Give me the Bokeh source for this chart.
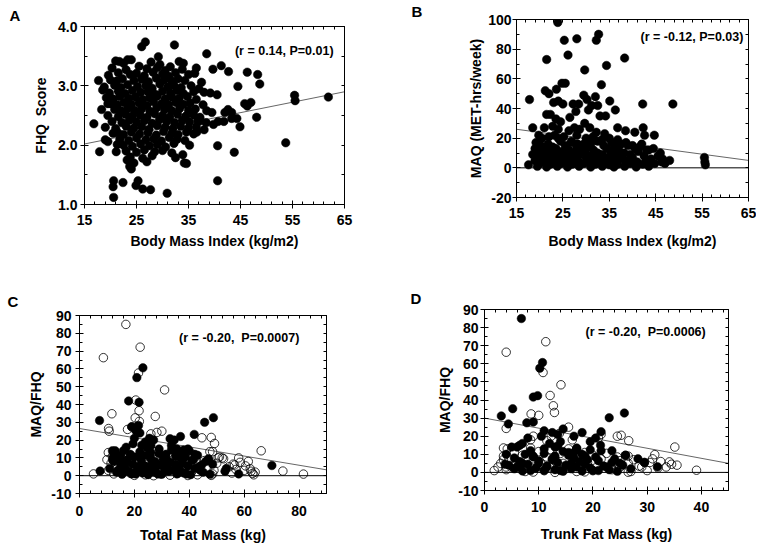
from bokeh.plotting import figure
from bokeh.models import LinearAxis, FixedTicker, Span, Label, PrintfTickFormatter, Range1d, Title
from bokeh.layouts import row, column
from bokeh.embed import file_html
from bokeh.resources import INLINE

FONT = "Liberation Sans"

# ---------------- Panel A: BMI vs FHQ score ----------------
bmi_a = [
    21.0, 22.5, 24.0, 27.8, 29.5, 33.2, 34.0,
    20.3, 23.0, 25.5, 27.0, 29.0, 30.5, 31.5, 33.8, 36.5,
    19.6, 21.5, 23.8, 25.0, 26.5, 28.2, 30.0, 31.2, 32.5, 35.0, 36.2,
    20.0, 21.2, 22.3, 24.5, 26.0, 27.3, 28.8, 30.3, 31.8, 33.0, 34.3, 37.5,
    18.8, 20.8, 22.0, 23.3, 25.2, 26.8, 28.0, 29.5, 31.0, 32.2, 33.6, 35.5, 37.0,
    18.5, 19.8, 21.5, 22.8, 24.2, 25.8, 27.2, 28.6, 30.0, 31.5, 32.8, 34.0, 36.0, 38.0,
    19.2, 20.5, 21.8, 23.5, 24.8, 26.2, 27.5, 29.0, 30.5, 31.8, 33.2, 34.8, 36.5,
    20.0, 21.3, 22.6, 24.0, 25.5, 27.0, 28.3, 29.8, 31.2, 32.6, 34.0, 35.3, 37.8,
    20.8, 22.0, 23.3, 24.6, 26.0, 27.6, 28.9, 30.4, 31.8, 33.3, 35.0, 36.3, 38.5,
    19.5, 21.5, 22.9, 24.2, 25.7, 27.0, 28.5, 30.0, 31.4, 32.9, 34.5, 36.0, 37.2,
    20.3, 22.2, 23.6, 25.0, 26.5, 28.0, 29.4, 30.8, 32.3, 33.8, 35.2, 36.8, 38.4,
    19.0, 21.0, 23.0, 24.5, 26.0, 27.4, 29.0, 30.5, 32.0, 33.5, 35.0, 36.5,
    20.5, 22.5, 24.0, 25.6, 27.2, 28.8, 30.2, 31.8, 33.0, 34.6, 36.0,
    21.8, 23.5, 25.0, 26.8, 28.3, 29.8, 31.3, 32.8, 34.3,
    22.5, 24.2, 25.8, 27.5, 29.0, 30.6, 32.2, 35.2,
    23.0, 25.0, 26.5, 28.5, 30.0, 31.8,
    23.8, 26.2, 28.0, 32.5,
    24.5, 27.0,
    26.7, 26.0, 32.3, 38.5, 29.2, 21.7, 23.3, 39.7, 41.3, 42.7, 46.3, 48.3, 48.7,
    17.7, 44.5, 55.4, 55.5, 61.9, 16.8, 18.3, 19.5, 17.9, 53.7, 48.1, 44.9, 43.8,
    40.6, 40.6, 20.6, 20.5, 20.6, 22.4, 25.3, 24.9, 26.2, 27.7, 30.9, 33.9, 34.2,
    34.6, 23.2, 23.7, 24.0, 21.1, 21.3, 19.0, 19.5, 21.4, 42.6, 43.3, 44.3, 45.8,
    46.3, 47.0, 40.5, 39.2, 39.5, 40.7, 39.8, 38.0, 37.3, 36.6, 41.8, 42.0, 43.3,
]
fhq_a = [
    3.42, 3.38, 3.44, 3.40, 3.36, 3.41, 3.38,
    3.30, 3.27, 3.33, 3.29, 3.31, 3.26, 3.32, 3.28, 3.30,
    3.18, 3.22, 3.19, 3.21, 3.17, 3.23, 3.20, 3.16, 3.22, 3.19, 3.21,
    3.10, 3.08, 3.12, 3.09, 3.11, 3.07, 3.13, 3.10, 3.08, 3.12, 3.09, 3.06,
    2.98, 3.01, 2.97, 3.02, 2.99, 3.00, 2.96, 3.03, 2.98, 3.01, 2.97, 3.00, 2.95,
    2.93, 2.88, 2.91, 2.87, 2.92, 2.89, 2.90, 2.86, 2.91, 2.88, 2.92, 2.87, 2.90, 2.89,
    2.80, 2.78, 2.82, 2.79, 2.81, 2.77, 2.80, 2.83, 2.78, 2.81, 2.79, 2.82, 2.77,
    2.70, 2.68, 2.72, 2.69, 2.71, 2.67, 2.73, 2.70, 2.68, 2.72, 2.69, 2.71, 2.68,
    2.60, 2.58, 2.62, 2.59, 2.61, 2.57, 2.63, 2.60, 2.58, 2.62, 2.59, 2.61, 2.58,
    2.50, 2.48, 2.52, 2.49, 2.51, 2.47, 2.53, 2.50, 2.48, 2.52, 2.49, 2.51, 2.47,
    2.40, 2.38, 2.42, 2.39, 2.41, 2.37, 2.43, 2.40, 2.38, 2.42, 2.39, 2.41, 2.38,
    2.30, 2.28, 2.32, 2.29, 2.31, 2.27, 2.33, 2.30, 2.28, 2.32, 2.29, 2.31,
    2.20, 2.18, 2.22, 2.19, 2.21, 2.17, 2.23, 2.20, 2.18, 2.22, 2.19,
    2.10, 2.08, 2.12, 2.09, 2.11, 2.07, 2.13, 2.10, 2.08,
    2.00, 1.98, 2.02, 1.99, 2.01, 1.97, 2.03, 2.00,
    1.90, 1.88, 1.92, 1.89, 1.91, 1.87,
    1.80, 1.78, 1.82, 1.79,
    1.70, 1.72,
    3.74, 3.66, 3.69, 3.54, 3.49, 3.41, 3.44, 3.28, 3.34, 3.24, 3.23, 3.19, 3.03,
    3.09, 2.99, 2.84, 2.75, 2.81, 2.36, 2.60, 2.70, 1.89, 2.04, 2.47, 2.31, 1.88,
    1.99, 1.40, 1.40, 1.30, 1.12, 1.37, 1.40, 1.32, 1.26, 1.25, 1.19, 1.84, 1.70,
    1.69, 1.75, 1.64, 1.60, 1.89, 2.01, 2.09, 2.06, 2.21, 2.60, 2.55, 2.45, 2.70,
    2.66, 2.72, 2.85, 2.88, 2.55, 2.40, 2.35, 2.26, 2.41, 2.22, 2.40, 2.55, 2.45,
]
fit_a_x = [15, 65]
fit_a_y = [2.02, 2.90]

# ---------------- Panel B: BMI vs MAQ ----------------
bmi_b = [
    23.9, 32.7, 32.2, 28.0, 25.3, 21.5, 26.1, 38.3, 34.4, 29.7, 33.3, 17.8, 42.2, 48.7,
    24.8, 25.5, 21.2, 22.0, 23.6, 29.5, 30.2, 32.0, 35.1, 36.3, 24.0, 23.0, 25.0, 27.2,
    28.4, 31.2, 32.5, 30.5, 27.8, 33.0, 34.2, 21.5, 22.3, 23.5, 26.5, 24.5, 29.7,
    18.5, 21.0, 22.8, 24.0, 26.3, 27.5, 28.6, 30.8, 32.2, 34.0, 36.8, 38.5, 40.5, 42.3,
    42.6, 44.7, 19.8, 20.5, 22.0, 23.2, 25.2, 28.0, 30.0, 31.5, 33.4, 35.0, 36.8, 38.6,
    40.0, 41.5, 43.5, 44.5, 45.5, 46.0, 46.5, 47.0, 48.0, 55.5, 55.6, 55.7, 17.6,
    19.2, 21.8, 24.5, 27.0, 29.5, 32.5, 35.5, 37.6,
    20.2, 22.8, 25.5, 28.2, 30.8, 33.8, 36.2, 39.0, 42.0,
    19.0, 21.2, 23.5, 26.3, 29.0, 31.6, 34.5, 37.0, 40.6, 43.0,
    20.0, 22.3, 24.8, 27.3, 29.8, 32.5, 35.3, 38.2, 41.2,
    19.3, 21.5, 23.9, 26.2, 28.5, 31.0, 33.5, 36.0, 39.5, 42.5,
    20.5, 22.8, 25.0, 27.5, 30.0, 32.2, 34.8, 37.2, 40.0, 44.0,
    19.0, 21.2, 23.5, 26.0, 28.3, 30.8, 33.3, 35.8, 38.5, 41.0, 43.0, 46.3,
    20.0, 22.3, 24.6, 27.0, 29.5, 32.0, 34.5, 36.8, 39.5, 42.2, 44.8,
    19.5, 21.5, 23.8, 26.0, 28.5, 31.0, 33.5, 36.0, 38.3, 40.8, 43.5,
    18.5, 24.0, 26.8, 31.0, 25.8, 28.0, 30.3, 35.0, 37.5, 23.0, 27.8,
]
maq_b = [
    98, 90, 86, 87, 86, 73, 76, 74, 69, 66, 56, 46, 43, 43,
    57, 57, 52, 50, 53, 49, 46, 48, 45, 39, 45, 44, 43, 43,
    43, 42, 42, 39, 38, 35, 35, 36, 36, 33, 34, 31, 30,
    27, 27, 28, 26, 25, 27, 26, 27, 24, 23, 27, 25, 24, 27,
    22, 22, 22, 20, 21, 22, 21, 22, 20, 21, 19, 20, 19, 17,
    15, 14, 12, 13, 8, 10, 6, 3, 5, 7, 4, 2, 2,
    17, 16, 18, 17, 16, 18, 17, 16,
    15, 14, 15, 16, 14, 15, 14, 15, 16,
    13, 12, 13, 12, 13, 12, 13, 12, 13, 12,
    11, 10, 11, 10, 11, 10, 11, 10, 11,
    9, 8, 9, 8, 9, 8, 9, 8, 9, 8,
    7, 6, 7, 6, 7, 6, 7, 6, 7, 6,
    5, 4, 5, 4, 5, 4, 5, 4, 5, 4, 5, 4,
    3, 2.5, 3, 2.5, 3, 2.5, 3, 2.5, 3, 2.5, 3,
    1, 0.5, 1, 0.5, 1, 0.5, 1, 0.5, 1, 0.5, 1,
    9, 20, 18, 16, 12, 14, 4, 2, 10, 3.5, 6,
]
fit_b_x = [15, 65]
fit_b_y = [26.0, 5.0]

# ---------------- Panel C: total fat mass vs MAQ/FHQ ----------------
tfm_filled = [
    13.0, 22.0, 33.5, 40.0,
    18.5, 24.5, 29.0, 36.0, 43.0,
    14.5, 20.0, 26.0, 31.5, 38.5, 47.0,
    12.5, 17.0, 22.5, 27.5, 33.0, 41.0, 46.0,
    15.0, 19.5, 24.0, 29.5, 35.0, 39.5, 44.5, 48.5,
    11.0, 16.5, 21.0, 25.5, 31.0, 36.5, 42.0,
    13.5, 18.0, 23.0, 27.0, 32.5, 38.0, 45.0, 53.0,
    15.5, 20.5, 25.0, 30.0, 35.5, 40.5, 47.5,
    7.3, 23.1, 20.9, 17.9, 21.7, 21.5, 20.5, 45.6, 48.8, 41.8, 33.0,
    22.7, 12.0, 12.4, 70.1, 58.0, 7.5, 25.5, 27.0, 36.8, 34.5, 19.0,
    22.0, 26.0, 42.0, 38.0, 53.5, 47.0, 17.0, 16.0, 24.0, 35.5, 39.5,
    14.0, 19.0, 23.5, 28.5, 34.0, 39.0, 44.0, 16.0, 21.5, 26.5,
    32.0, 37.5, 43.5, 12.0, 17.5, 22.0, 30.5, 35.0, 41.5, 24.5,
    29.0, 19.5, 26.0, 33.5, 20.0, 37.0, 15.0, 22.5, 27.5, 31.5,
]
ratio_c_filled = [
    14, 13.5, 14.5, 14,
    12, 11.5, 12.5, 12, 11.5,
    10, 10.5, 9.5, 10, 10.5, 9.5,
    8, 7.5, 8.5, 8, 7.5, 8.5, 8,
    6, 6.5, 5.5, 6, 6.5, 5.5, 6, 6.5,
    4, 4.5, 3.5, 4, 4.5, 3.5, 4,
    2, 2.5, 1.5, 2, 2.5, 1.5, 2, 2.5,
    0.8, 1, 0.6, 0.8, 1, 0.6, 0.8,
    31, 60.6, 55.1, 42, 41.2, 28.2, 25.4, 30, 32.6, 23.2, 20.8,
    17.1, 14, 11.8, 5.7, 1, 2.6, 21, 20, 22, 20, 27.5,
    24, 17, 12, 14.5, 4, 9, 16, 14, 19, 15, 15,
    3, 1, 3, 1, 3, 1, 3, 5, 5, 7,
    5, 7, 5, 9, 9, 11, 9, 11, 9, 16,
    15, 18, 13, 17, 21, 10, 11, 6, 4, 12,
]
tfm_open = [
    10.5, 16.0, 27.5, 37.5, 48.5,
    12.0, 23.0, 30.5, 41.5, 51.0,
    10.0, 15.5, 21.0, 28.0, 34.5, 45.5, 52.5,
    11.5, 18.0, 25.0, 31.0, 37.0, 43.5, 50.0, 56.0,
    13.0, 19.5, 26.5, 33.5, 39.0, 46.5, 54.5, 60.5,
    10.5, 16.0, 22.0, 28.5, 34.0, 41.0, 49.0, 57.0, 62.5,
    12.5, 18.5, 24.0, 29.5, 36.0, 43.0, 48.5, 55.5, 63.5,
    20.0, 27.0, 33.0, 39.5, 48.0,
    16.9, 22.1, 8.7, 21.5, 31.0, 20.5, 21.7, 11.8, 27.6, 10.6, 10.8, 19.1,
    28.2, 30.0, 44.6, 48.0, 49.2, 66.2, 74.1, 81.6, 63.1, 62.2, 5.1, 20.3,
    21.8, 17.5, 26.0, 47.5, 50.5, 52.0, 58.0, 58.5, 61.5, 56.5, 60.0, 64.0,
]
ratio_c_open = [
    13, 12.5, 13.5, 13, 13.5,
    11, 11.5, 10.5, 11, 10.5,
    9, 9.5, 8.5, 9, 9.5, 8.5, 9.5,
    7, 7.5, 6.5, 7, 7.5, 6.5, 7, 6.5,
    5, 5.5, 4.5, 5, 5.5, 4.5, 5, 5.5,
    3, 3.5, 2.5, 3, 3.5, 2.5, 3, 3.5, 2.5,
    1, 1.5, 0.5, 1, 1.5, 0.5, 1, 1.5, 0.5,
    0.2, 0, 0.3, 0.1, 0.2,
    85, 72.2, 66.3, 57.7, 48.2, 42.5, 36.5, 34.8, 33.3, 26.5, 25, 27.4,
    24.3, 25, 21.3, 21.5, 18.1, 14, 2.6, 0.9, 1.3, 3.9, 1, 32.5,
    30.5, 26, 23.5, 13.5, 10, 10, 10, 7.5, 8, 6, 3, 2,
]
fit_c_x = [0, 90]
fit_c_y = [26.5, 3.3]

# ---------------- Panel D: trunk fat mass vs MAQ/FHQ ----------------
trunk_filled = [
    6.0, 13.5, 17.0,
    8.5, 14.5, 19.5, 21.5,
    7.5, 11.0, 15.5, 18.0, 26.0,
    5.5, 9.0, 12.5, 16.5, 20.5, 24.0, 28.3,
    6.5, 10.0, 13.5, 17.5, 21.0, 23.5, 29.5,
    4.5, 8.0, 11.5, 15.0, 18.5, 22.0, 25.5,
    5.5, 9.5, 13.0, 16.0, 19.5, 23.0, 27.0,
    7.0, 11.0, 14.5, 18.0, 21.0, 24.5,
    6.8, 10.7, 10.2, 9.0, 9.8, 5.2, 3.1, 4.4, 7.8, 9.0, 23.0,
    25.8, 14.5, 13.5, 16.5, 18.0, 21.5, 19.5, 17.0, 21.4, 13.0, 12.5,
    10.5, 6.5, 7.0, 5.0, 29.5, 31.9, 26.0, 3.8, 11.0,
    6.0, 8.5, 11.5, 14.0, 17.0, 20.0, 22.5, 7.0, 10.0, 12.5,
    16.0, 19.0, 25.0, 9.0, 13.0, 15.5, 18.5, 4.0, 11.0, 14.0,
    20.5, 23.5, 12.0, 16.5, 8.0,
]
ratio_d_filled = [
    14, 14.5, 13.5,
    12, 11.5, 12.5, 12,
    10, 10.5, 9.5, 10, 9.5,
    8, 8.5, 7.5, 8, 8.5, 7.5, 7.5,
    6, 6.5, 5.5, 6, 6.5, 5.5, 5.5,
    4, 4.5, 3.5, 4, 4.5, 3.5, 4,
    2, 2.5, 1.5, 2, 2.5, 1.5, 2,
    0.8, 1, 0.6, 0.8, 1, 0.6,
    85, 60.7, 57.6, 41.6, 42.4, 35.2, 31.2, 26.8, 27.4, 27.8, 30.2,
    32.8, 24, 21, 20, 22, 22.5, 17, 13, 15, 14, 22,
    20, 15, 16, 14, 5.5, 3.1, 9.5, 4.5, 23,
    3, 1, 3, 1, 3, 1, 3, 5, 5, 7,
    5, 7, 5, 9, 9, 11, 9, 10, 13, 17,
    19, 12, 16, 11, 19,
]
trunk_open = [
    4.2, 8.5, 12.0, 15.5,
    5.5, 10.0, 14.0, 18.5, 22.5,
    3.5, 7.0, 11.5, 16.0, 20.0, 24.5, 26.5,
    4.5, 9.0, 13.0, 17.5, 21.5, 25.0, 27.5, 31.0,
    3.0, 6.5, 10.5, 14.5, 19.0, 23.5, 26.5, 30.5, 34.5,
    2.5, 5.0, 8.5, 12.0, 16.5, 20.5, 25.0, 28.5, 32.0,
    1.8, 4.0, 7.5, 11.0, 14.0, 17.0, 20.0, 23.5, 27.0, 30.0,
    9.0, 13.0, 18.5, 26.5,
    11.3, 4.0, 10.8, 14.1, 12.1, 12.7, 12.9, 8.6, 10.0, 4.0, 26.6,
    31.4, 35.1, 39.1, 34.1, 24.5, 25.2, 12.3, 11.5, 15.5, 16.2, 9.0,
    8.5, 3.5, 13.8, 32.5, 33.5, 35.5, 29.0, 3.5, 4.0, 21.5, 21.0,
]
ratio_d_open = [
    13, 13.5, 12.5, 13,
    11, 11.5, 10.5, 11, 10.5,
    9, 9.5, 8.5, 9, 9.5, 8.5, 9,
    7, 7.5, 6.5, 7, 7.5, 6.5, 7, 7.5,
    5, 5.5, 4.5, 5, 5.5, 4.5, 5, 5.5, 4.5,
    3, 3.5, 2.5, 3, 3.5, 2.5, 3, 3.5, 2.5,
    1, 1.5, 0.5, 1, 1.5, 0.5, 1, 1.5, 0.5, 1,
    0.2, 0, 0.3, 0.1,
    72.2, 66.4, 55.2, 48.4, 42.5, 36.8, 33.1, 32.3, 31.5, 24.3, 17.5,
    9.8, 14, 1.2, 5.8, 20, 20.5, 20, 17.5, 25, 18, 20,
    18, 13.5, 21.5, 6, 3, 4, 3, 7, 3, 21, 19,
]
fit_d_x = [0, 45]
fit_d_y = [30.0, 5.0]

# tick positions
bmi_ticks = [15, 25, 35, 45, 55, 65]
bmi_minor = [17, 19, 21, 23, 27, 29, 31, 33, 37, 39, 41, 43, 47, 49, 51, 53, 57, 59, 61, 63]
fhq_ticks = [1.0, 2.0, 3.0, 4.0]
fhq_minor = [1.5, 2.5, 3.5]
maq_ticks = [-20, 0, 20, 40, 60, 80, 100]
maq_minor = [-10, 10, 30, 50, 70, 90]
ratio_ticks = [-10, 0, 10, 20, 30, 40, 50, 60, 70, 80, 90]
ratio_minor = [-5, 5, 15, 25, 35, 45, 55, 65, 75, 85]
tfm_ticks = [0, 20, 40, 60, 80]
tfm_minor = [4, 8, 12, 16, 24, 28, 32, 36, 44, 48, 52, 56, 64, 68, 72, 76, 84, 88]
trunk_ticks = [0, 10, 20, 30, 40]
trunk_minor = [2, 4, 6, 8, 12, 14, 16, 18, 22, 24, 26, 28, 32, 34, 36, 38, 42, 44]


def pairs(xs, ys):
    n = min(len(xs), len(ys))
    return list(xs[:n]), list(ys[:n])


def style_main_axis(ax, tk, mn, fmt, label, lab_standoff, ax_standoff):
    ax.ticker = FixedTicker(ticks=tk, minor_ticks=mn)
    ax.formatter = PrintfTickFormatter(format=fmt)
    ax.axis_label = label
    ax.axis_line_color = "black"
    ax.major_tick_line_color = "black"
    ax.minor_tick_line_color = "black"
    ax.major_tick_in = 4
    ax.major_tick_out = 4
    ax.minor_tick_in = 3
    ax.minor_tick_out = 0
    ax.major_label_text_font = FONT
    ax.major_label_text_font_style = "bold"
    ax.major_label_text_font_size = "14px"
    ax.major_label_text_color = "black"
    ax.major_label_standoff = lab_standoff
    ax.axis_label_text_font = FONT
    ax.axis_label_text_font_style = "bold"
    ax.axis_label_text_font_size = "14px"
    ax.axis_label_text_color = "black"
    ax.axis_label_standoff = ax_standoff


def mirror_axis(p, tk, mn, side):
    # tick marks only (no labels) on the top / right edges of the box
    ax = LinearAxis(ticker=FixedTicker(ticks=[], minor_ticks=sorted(tk + mn)))
    ax.axis_line_color = "black"
    ax.major_tick_in = 0
    ax.major_tick_out = 0
    ax.minor_tick_in = 3
    ax.minor_tick_out = 0
    ax.minor_tick_line_color = "black"
    ax.major_label_standoff = 0
    p.add_layout(ax, side)


def panel(w, h, bl, br, bt, bb, xr, yr):
    p = figure(width=w, height=h, x_range=Range1d(*xr), y_range=Range1d(*yr),
               output_backend="svg", toolbar_location=None,
               min_border_left=bl, min_border_right=br,
               min_border_top=bt, min_border_bottom=bb)
    try:
        p.frame_align = False
    except Exception:
        pass
    p.xgrid.visible = False
    p.ygrid.visible = False
    p.outline_line_color = "black"
    p.outline_line_width = 1
    p.outline_line_alpha = 1
    p.background_fill_color = "white"
    p.border_fill_color = "white"
    return p


def text_label(p, x, y, txt, size):
    p.add_layout(Label(x=x, y=y, text=txt, text_font=FONT, text_font_style="bold",
                       text_font_size=size, text_color="black",
                       text_align="right", text_baseline="middle"))


def panel_letter(p, letter, offset, standoff):
    p.add_layout(Title(text=letter, align="left", offset=offset, standoff=standoff,
                       text_font=FONT, text_font_style="bold", text_font_size="15px",
                       text_color="black"), "above")


# ---- A ----
pa = panel(380, 270, 84, 36, 26, 66, (15, 65), (1.0, 4.0))
style_main_axis(pa.xaxis[0], bmi_ticks, bmi_minor, "%d", "Body Mass Index (kg/m2)", 6, 5)
style_main_axis(pa.yaxis[0], fhq_ticks, fhq_minor, "%.1f", "FHQ \u00a0Score", 3, 6)
mirror_axis(pa, bmi_ticks, bmi_minor, "above")
mirror_axis(pa, fhq_ticks, fhq_minor, "right")
xa, ya = pairs(bmi_a, fhq_a)
pa.line(fit_a_x, fit_a_y, line_color="#666666", line_width=1)
pa.scatter(xa, ya, size=8.5, fill_color="black", line_color="black", line_width=0.5)
text_label(pa, 62.9, 3.595, "(r = 0.14, P=0.01)", "12.5px")
panel_letter(pa, "A", -75, 6)

# ---- B ----
pb = panel(376, 270, 136, 8, 19, 73, (15, 65), (-20, 100))
style_main_axis(pb.xaxis[0], bmi_ticks, bmi_minor, "%d", "Body Mass Index (kg/m2)", 6, 12)
style_main_axis(pb.yaxis[0], maq_ticks, maq_minor, "%d", "MAQ (MET-hrs/week)", 1, 1)
mirror_axis(pb, bmi_ticks, bmi_minor, "above")
mirror_axis(pb, maq_ticks, maq_minor, "right")
pb.add_layout(Span(location=0, dimension="width", line_color="black", line_width=1))
xb, yb = pairs(bmi_b, maq_b)
pb.line(fit_b_x, fit_b_y, line_color="#666666", line_width=1)
pb.scatter(xb, yb, size=8.5, fill_color="black", line_color="black", line_width=0.5)
text_label(pb, 63.9, 87.9, "(r = -0.12, P=0.03)", "12.5px")
panel_letter(pb, "B", -105, 0)

# ---- C ----
pc = panel(380, 275, 79, 54, 45, 50, (0, 90), (-10, 90))
style_main_axis(pc.xaxis[0], tfm_ticks, tfm_minor, "%d", "Total Fat Mass (kg)", 8, 8)
style_main_axis(pc.yaxis[0], ratio_ticks, ratio_minor, "%d", "MAQ/FHQ", 4, 4)
mirror_axis(pc, tfm_ticks, tfm_minor, "above")
mirror_axis(pc, ratio_ticks, ratio_minor, "right")
pc.add_layout(Span(location=0, dimension="width", line_color="black", line_width=1))
pc.line(fit_c_x, fit_c_y, line_color="#666666", line_width=1)
xcf, ycf = pairs(tfm_filled, ratio_c_filled)
xco, yco = pairs(tfm_open, ratio_c_open)
pc.scatter(xcf, ycf, size=8.5, fill_color="black", line_color="black", line_width=0.5)
pc.scatter(xco, yco, size=8.5, fill_color=None, line_color="black", line_width=0.8)
text_label(pc, 80.1, 77.2, "(r = -0.20, \u00a0P=0.0007)", "12.5px")
panel_letter(pc, "C", -72, 11)

# ---- D ----
pd_ = panel(376, 275, 104, 28, 39, 55, (0, 45), (-10, 90))
style_main_axis(pd_.xaxis[0], trunk_ticks, trunk_minor, "%d", "Trunk Fat Mass (kg)", 7, 11)
style_main_axis(pd_.yaxis[0], ratio_ticks, ratio_minor, "%d", "MAQ/FHQ", 2, 2)
mirror_axis(pd_, trunk_ticks, trunk_minor, "above")
mirror_axis(pd_, ratio_ticks, ratio_minor, "right")
pd_.add_layout(Span(location=0, dimension="width", line_color="black", line_width=1))
pd_.line(fit_d_x, fit_d_y, line_color="#666666", line_width=1)
xdf, ydf = pairs(trunk_filled, ratio_d_filled)
xdo, ydo = pairs(trunk_open, ratio_d_open)
pd_.scatter(xdf, ydf, size=8.5, fill_color="black", line_color="black", line_width=0.5)
pd_.scatter(xdo, ydo, size=8.5, fill_color=None, line_color="black", line_width=0.8)
text_label(pd_, 40.8, 77.8, "(r = -0.20, \u00a0P=0.0006)", "12.5px")
panel_letter(pd_, "D", -74, 6)

layout = column(row(pa, pb), row(pc, pd_))
open("out.html", "w").write(file_html(layout, INLINE))
